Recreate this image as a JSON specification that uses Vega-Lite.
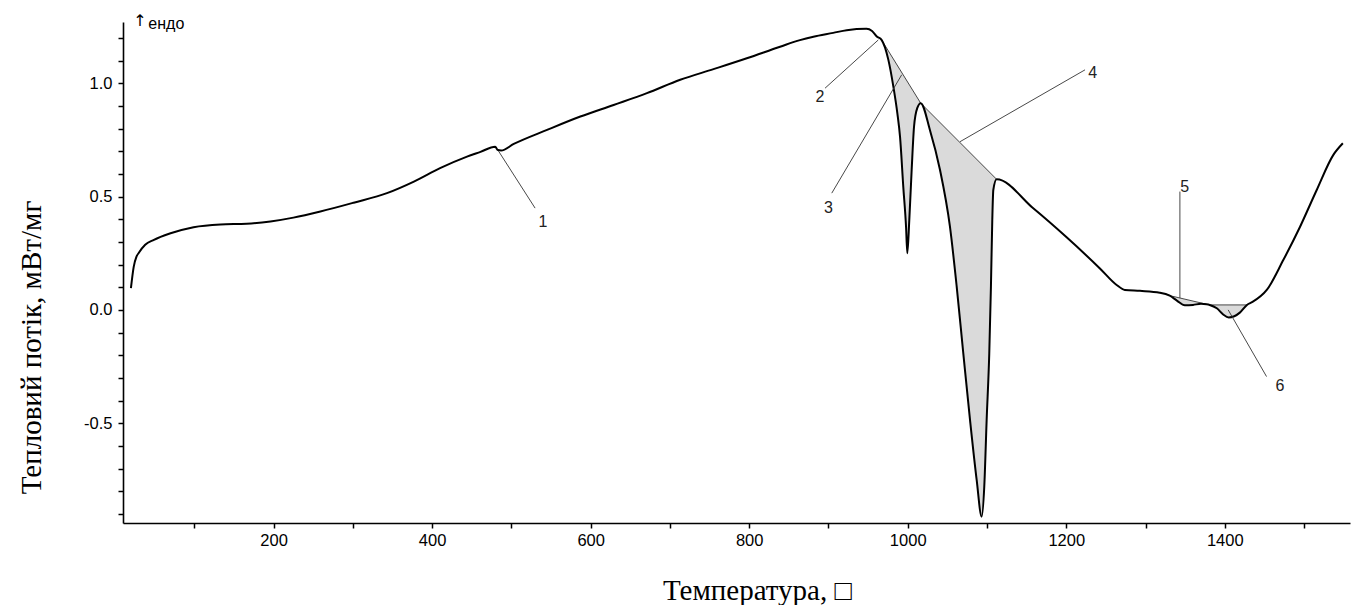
{
  "$schema": "https://vega.github.io/schema/vega-lite/v6.json",
  "autosize": {"type": "none"},
  "padding": {"left": 123, "top": 22, "right": 8, "bottom": 82},
  "width": 1227,
  "height": 501,
  "background": "white",
  "config": {
    "view": {"stroke": null},
    "axis": {
      "grid": false,
      "domainColor": "black",
      "domainWidth": 1.6,
      "tickColor": "black",
      "tickWidth": 1.5,
      "tickSize": 5,
      "labelColor": "black",
      "labelFont": "Liberation Sans",
      "labelFontSize": 16.5,
      "titleFont": "Liberation Serif",
      "titleFontSize": 29,
      "titleFontWeight": "normal",
      "titleColor": "black"
    }
  },
  "datasets": {
    "curve": [
      {"T": 20, "V": 0.096}, {"T": 23.5, "V": 0.19}, {"T": 27, "V": 0.235}, {"T": 30, "V": 0.252},
      {"T": 38, "V": 0.287}, {"T": 49, "V": 0.309}, {"T": 70, "V": 0.338}, {"T": 99, "V": 0.365},
      {"T": 133, "V": 0.377}, {"T": 166, "V": 0.38}, {"T": 196, "V": 0.39}, {"T": 225, "V": 0.407},
      {"T": 259, "V": 0.434}, {"T": 301, "V": 0.473}, {"T": 343, "V": 0.515}, {"T": 377, "V": 0.566},
      {"T": 410, "V": 0.625}, {"T": 444, "V": 0.676}, {"T": 461, "V": 0.697}, {"T": 479.5, "V": 0.72},
      {"T": 483, "V": 0.705}, {"T": 487, "V": 0.703}, {"T": 503, "V": 0.732}, {"T": 545, "V": 0.794},
      {"T": 587, "V": 0.853}, {"T": 629, "V": 0.904}, {"T": 671, "V": 0.956}, {"T": 713, "V": 1.015},
      {"T": 755, "V": 1.062}, {"T": 797, "V": 1.11}, {"T": 839, "V": 1.161}, {"T": 864, "V": 1.19},
      {"T": 881, "V": 1.205}, {"T": 906, "V": 1.222}, {"T": 923, "V": 1.234}, {"T": 948, "V": 1.24},
      {"T": 955, "V": 1.23}, {"T": 961, "V": 1.206}, {"T": 967, "V": 1.191}, {"T": 975.6, "V": 1.103},
      {"T": 981.9, "V": 0.985}, {"T": 986.9, "V": 0.868}, {"T": 990.3, "V": 0.764}, {"T": 994.4, "V": 0.544},
      {"T": 997.9, "V": 0.367}, {"T": 999.5, "V": 0.25}, {"T": 1002, "V": 0.397}, {"T": 1005, "V": 0.618},
      {"T": 1008, "V": 0.809}, {"T": 1012, "V": 0.89}, {"T": 1016.4, "V": 0.912}, {"T": 1028, "V": 0.794},
      {"T": 1040.7, "V": 0.618}, {"T": 1053.3, "V": 0.367}, {"T": 1061.8, "V": 0.103}, {"T": 1070.1, "V": -0.191},
      {"T": 1078.6, "V": -0.485}, {"T": 1087, "V": -0.75}, {"T": 1093.3, "V": -0.912}, {"T": 1096.6, "V": -0.779},
      {"T": 1099.6, "V": -0.485}, {"T": 1102.9, "V": -0.191}, {"T": 1105, "V": 0.103}, {"T": 1106.7, "V": 0.397},
      {"T": 1108, "V": 0.529}, {"T": 1112.2, "V": 0.576}, {"T": 1158.4, "V": 0.448}, {"T": 1200.5, "V": 0.32},
      {"T": 1242.5, "V": 0.183}, {"T": 1263.6, "V": 0.11}, {"T": 1274, "V": 0.088}, {"T": 1293, "V": 0.084},
      {"T": 1318, "V": 0.076}, {"T": 1330.6, "V": 0.063}, {"T": 1340, "V": 0.04}, {"T": 1349.6, "V": 0.02},
      {"T": 1360, "V": 0.022}, {"T": 1370, "V": 0.027}, {"T": 1377, "V": 0.025}, {"T": 1381, "V": 0.022},
      {"T": 1390, "V": 0.007}, {"T": 1398, "V": -0.02}, {"T": 1405, "V": -0.033}, {"T": 1412, "V": -0.028},
      {"T": 1419, "V": -0.012}, {"T": 1428, "V": 0.022}, {"T": 1435, "V": 0.035}, {"T": 1453, "V": 0.088},
      {"T": 1474, "V": 0.221}, {"T": 1495, "V": 0.367}, {"T": 1516, "V": 0.529}, {"T": 1537, "V": 0.684},
      {"T": 1549, "V": 0.735}
    ],
    "regions": [
      {"r": "3", "T": 967, "V": 1.191, "B": 1.191}, {"r": "3", "T": 975.6, "V": 1.103, "B": 1.142},
      {"r": "3", "T": 981.9, "V": 0.985, "B": 1.107}, {"r": "3", "T": 986.9, "V": 0.868, "B": 1.079},
      {"r": "3", "T": 990.3, "V": 0.764, "B": 1.059}, {"r": "3", "T": 994.4, "V": 0.544, "B": 1.036},
      {"r": "3", "T": 997.9, "V": 0.367, "B": 1.016}, {"r": "3", "T": 999.5, "V": 0.25, "B": 1.007},
      {"r": "3", "T": 1002, "V": 0.397, "B": 0.993}, {"r": "3", "T": 1005, "V": 0.618, "B": 0.976},
      {"r": "3", "T": 1008, "V": 0.809, "B": 0.959}, {"r": "3", "T": 1012, "V": 0.89, "B": 0.937},
      {"r": "3", "T": 1016.4, "V": 0.912, "B": 0.912},
      {"r": "4", "T": 1016.4, "V": 0.912, "B": 0.912}, {"r": "4", "T": 1028, "V": 0.794, "B": 0.871},
      {"r": "4", "T": 1040.7, "V": 0.618, "B": 0.827}, {"r": "4", "T": 1053.3, "V": 0.367, "B": 0.783},
      {"r": "4", "T": 1061.8, "V": 0.103, "B": 0.753}, {"r": "4", "T": 1070.1, "V": -0.191, "B": 0.724},
      {"r": "4", "T": 1078.6, "V": -0.485, "B": 0.694}, {"r": "4", "T": 1087, "V": -0.75, "B": 0.664},
      {"r": "4", "T": 1093.3, "V": -0.912, "B": 0.642}, {"r": "4", "T": 1096.6, "V": -0.779, "B": 0.631},
      {"r": "4", "T": 1099.6, "V": -0.485, "B": 0.62}, {"r": "4", "T": 1102.9, "V": -0.191, "B": 0.609},
      {"r": "4", "T": 1105, "V": 0.103, "B": 0.601}, {"r": "4", "T": 1106.7, "V": 0.397, "B": 0.595},
      {"r": "4", "T": 1108, "V": 0.529, "B": 0.591}, {"r": "4", "T": 1112.2, "V": 0.576, "B": 0.576},
      {"r": "5", "T": 1330.6, "V": 0.063, "B": 0.063}, {"r": "5", "T": 1340, "V": 0.04, "B": 0.055},
      {"r": "5", "T": 1349.6, "V": 0.02, "B": 0.047}, {"r": "5", "T": 1360, "V": 0.022, "B": 0.039},
      {"r": "5", "T": 1370, "V": 0.027, "B": 0.031}, {"r": "5", "T": 1377, "V": 0.025, "B": 0.025},
      {"r": "6", "T": 1381, "V": 0.022, "B": 0.022}, {"r": "6", "T": 1390, "V": 0.007, "B": 0.022},
      {"r": "6", "T": 1398, "V": -0.02, "B": 0.022}, {"r": "6", "T": 1405, "V": -0.033, "B": 0.022},
      {"r": "6", "T": 1412, "V": -0.028, "B": 0.022}, {"r": "6", "T": 1419, "V": -0.012, "B": 0.022},
      {"r": "6", "T": 1428, "V": 0.022, "B": 0.022}
    ],
    "baselines": [
      {"T": 967, "V": 1.191, "T2": 1016.4, "V2": 0.912},
      {"T": 1016.4, "V": 0.912, "T2": 1112.2, "V2": 0.576},
      {"T": 1330.6, "V": 0.063, "T2": 1377, "V2": 0.025},
      {"T": 1381, "V": 0.022, "T2": 1428, "V2": 0.022}
    ],
    "leaders": [
      {"T": 483.7, "V": 0.701, "T2": 529.9, "V2": 0.449},
      {"T": 962.9, "V": 1.191, "T2": 895.7, "V2": 0.978},
      {"T": 992.4, "V": 1.037, "T2": 904.2, "V2": 0.515},
      {"T": 1066, "V": 0.742, "T2": 1223.7, "V2": 1.059},
      {"T": 1343.4, "V": 0.052, "T2": 1343.4, "V2": 0.522},
      {"T": 1404.3, "V": 0.0, "T2": 1452.7, "V2": -0.294}
    ],
    "labels": [
      {"T": 539.9, "V": 0.389, "text": "1"},
      {"T": 889.4, "V": 0.941, "text": "2"},
      {"T": 899.9, "V": 0.449, "text": "3"},
      {"T": 1233.3, "V": 1.044, "text": "4"},
      {"T": 1349.6, "V": 0.543, "text": "5"},
      {"T": 1469.5, "V": -0.335, "text": "6"}
    ],
    "arrow": [{"T": 23, "V": 1.253, "text": "↑"}],
    "endo": [{"T": 42, "V": 1.24, "text": "ендо"}]
  },
  "encoding": {
    "x": {
      "field": "T", "type": "quantitative",
      "scale": {"domain": [10, 1558], "nice": false, "zero": false},
      "axis": {
        "values": [100, 200, 300, 400, 500, 600, 700, 800, 900, 1000, 1100, 1200, 1300, 1400, 1500],
        "labelExpr": "datum.value % 200 == 0 ? format(datum.value, 'd') : ''",
        "labelPadding": 4,
        "title": "Температура, □",
        "titleX": 634,
        "titleY": 76,
        "titleAlign": "center",
        "titleBaseline": "alphabetic"
      }
    },
    "y": {
      "field": "V", "type": "quantitative",
      "scale": {"domain": [-0.94, 1.27], "nice": false, "zero": false},
      "axis": {
        "values": [-0.9, -0.8, -0.7, -0.6, -0.5, -0.4, -0.3, -0.2, -0.1, 0, 0.1, 0.2, 0.3, 0.4, 0.5, 0.6, 0.7, 0.8, 0.9, 1.0, 1.1, 1.2],
        "labelExpr": "round(datum.value * 10) % 5 == 0 ? replace(format(datum.value, '.1f'), '\u2212', '-') : ''",
        "labelPadding": 6,
        "title": "Тепловий потік, мВт/мг",
        "titleAngle": 270,
        "titleX": -83,
        "titleY": 325,
        "titleAlign": "center",
        "titleBaseline": "alphabetic"
      }
    }
  },
  "layer": [
    {
      "data": {"name": "regions"},
      "mark": {"type": "area", "color": "#dadada", "opacity": 1, "interpolate": "monotone"},
      "encoding": {"y2": {"field": "B"}, "detail": {"field": "r", "type": "nominal"}}
    },
    {
      "data": {"name": "baselines"},
      "mark": {"type": "rule", "color": "#333333", "strokeWidth": 0.9},
      "encoding": {"x2": {"field": "T2"}, "y2": {"field": "V2"}}
    },
    {
      "data": {"name": "curve"},
      "mark": {"type": "line", "color": "black", "strokeWidth": 2, "interpolate": "monotone"}
    },
    {
      "data": {"name": "leaders"},
      "mark": {"type": "rule", "color": "#333333", "strokeWidth": 0.9},
      "encoding": {"x2": {"field": "T2"}, "y2": {"field": "V2"}}
    },
    {
      "data": {"name": "labels"},
      "mark": {"type": "text", "font": "Liberation Sans", "fontSize": 16, "color": "#222222", "align": "center", "baseline": "middle"},
      "encoding": {"text": {"field": "text"}}
    },
    {
      "data": {"name": "arrow"},
      "mark": {"type": "text", "font": "DejaVu Sans", "fontSize": 16, "color": "black", "align": "left", "baseline": "alphabetic"},
      "encoding": {"text": {"field": "text"}}
    },
    {
      "data": {"name": "endo"},
      "mark": {"type": "text", "font": "Liberation Sans", "fontSize": 16, "color": "black", "align": "left", "baseline": "alphabetic"},
      "encoding": {"text": {"field": "text"}}
    }
  ]
}
